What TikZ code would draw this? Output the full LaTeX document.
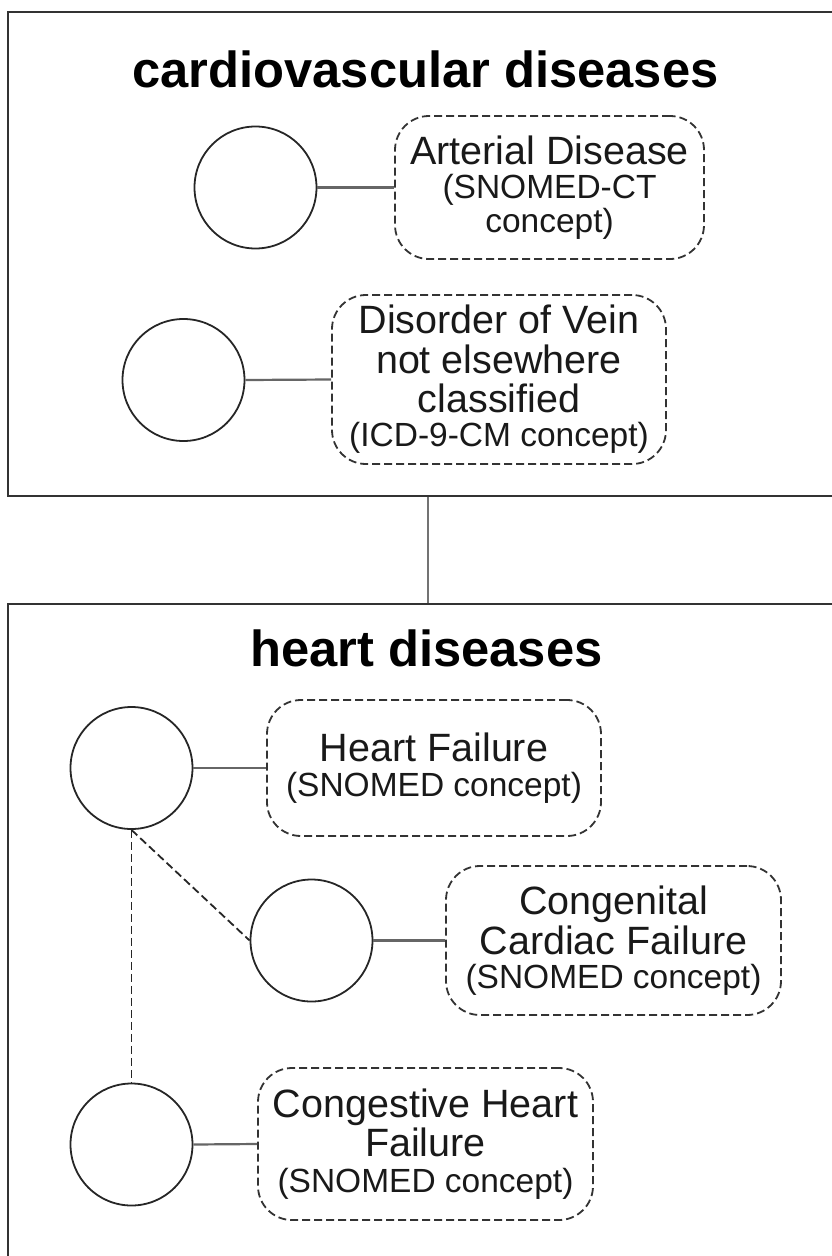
\documentclass[tikz,border=0pt]{standalone}
\usepackage{fontspec}
\setmainfont{Liberation Sans}
\newcommand{\labelsize}{\fontsize{39.5}{39.5}\selectfont}
\newcommand{\conceptsize}{\fontsize{33.5}{33.5}\selectfont}
\newcommand{\titlesize}{\fontsize{50.7}{50.7}\selectfont}
\begin{document}
\begin{tikzpicture}[x=1pt, y=-1pt,
	group/.style={draw=black!80, line width=2pt, inner sep=0pt},
	grouptitle/.style={anchor=base, text=black, font=\titlesize\bfseries},
	term/.style={circle, draw=black!85, line width=1.8pt, minimum size=122pt, inner sep=0pt},
	concept/.style={draw=black!80, line width=1.8pt, dash pattern=on 8pt off 4pt,
		rounded corners=34pt, inner sep=0pt, align=center, text=black!90, font=\labelsize},
	link/.style={draw=black!60, line width=2.2pt},
	bridge/.style={draw=black!55, line width=2.5pt},
	subsumes/.style={draw=black!85, line width=1.8pt, dash pattern=on 8pt off 4pt}]
	
	\useasboundingbox (0,0) rectangle (832,1256);
	\clip (0,0) rectangle (832,1256);
	
	\node[group, minimum width=840pt, minimum height=484pt] (cvd) at (428,254) {};
	\node[group, minimum width=840pt, minimum height=700pt] (hd) at (428,954) {};
	\draw[bridge] (cvd.south) -- (hd.north);
	
	\node[grouptitle] (cvdtitle) at (425.5,87) {cardiovascular diseases};
	\node[grouptitle] (hdtitle) at (426.5,666) {heart diseases};
	
	\node[term] (arterial) at (255.5,187.5) {};
	\node[concept, minimum width=309pt, minimum height=143pt] (arterialtxt) at (549.5,187.5)
		{Arterial Disease\\[-5.5pt] {\conceptsize (SNOMED-CT}\\[-5.5pt] {\conceptsize concept)}};
	\draw[link] (arterial.east) -- (arterialtxt.west);
	
	\node[term] (vein) at (183.5,380) {};
	\node[concept, minimum width=334pt, minimum height=169pt] (veintxt) at (499,379.5)
		{Disorder of Vein\\ not elsewhere\\ classified\\[-5.5pt] {\conceptsize (ICD-9-CM concept)}};
	\draw[link] (vein.east) -- (veintxt.west);
	
	\node[term] (failure) at (131.5,768) {};
	\node[concept, minimum width=334pt, minimum height=136pt] (failuretxt) at (434,768)
		{Heart Failure\\[-5pt] {\conceptsize (SNOMED concept)}};
	\draw[link] (failure.east) -- (failuretxt.west);
	
	\node[term] (congenital) at (311.5,940.5) {};
	\node[concept, minimum width=335pt, minimum height=149pt] (congenitaltxt) at (613.5,940.5)
		{Congenital\\ Cardiac Failure\\[-5.5pt] {\conceptsize (SNOMED concept)}};
	\draw[link] (congenital.east) -- (congenitaltxt.west);
	
	\node[term] (congestive) at (131.5,1144.5) {};
	\node[concept, minimum width=335pt, minimum height=152pt] (congestivetxt) at (425.5,1144)
		{Congestive Heart\\ Failure\\[-4pt] {\conceptsize (SNOMED concept)}};
	\draw[link] (congestive.east) -- (congestivetxt.west);
	
	\draw[subsumes] (failure.south) -- (congenital.west);
	\draw[subsumes] (failure.south) -- (congestive.north);
	
\end{tikzpicture}
\end{document}
